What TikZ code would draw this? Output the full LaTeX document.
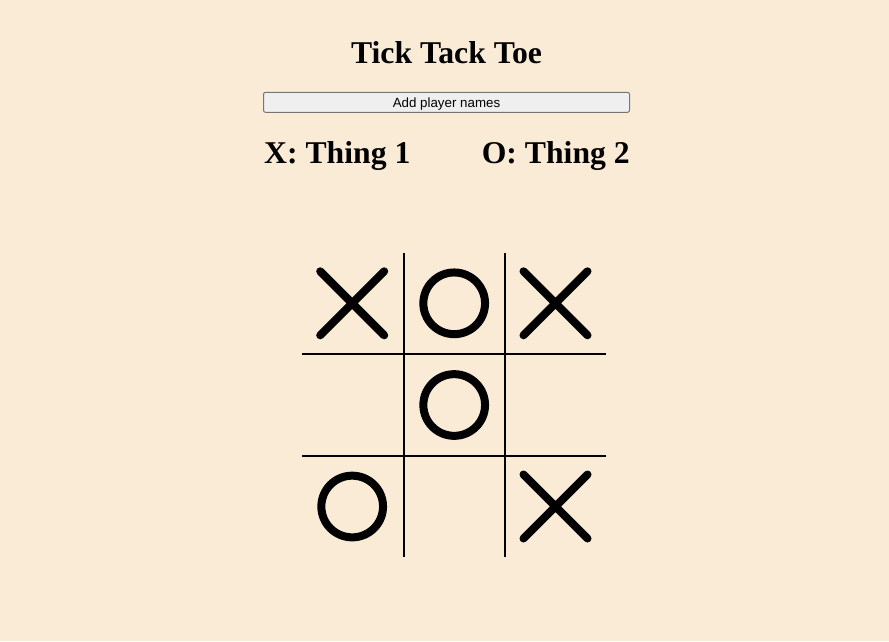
\documentclass[tikz,border=0pt]{standalone}
\usepackage{fontspec}
\setmainfont{Liberation Serif}
\newfontfamily\btnfont{Liberation Sans}
\usetikzlibrary{shapes.misc}
\definecolor{pagebg}{HTML}{FAEBD7}
\definecolor{btnfill}{HTML}{EFEFEF}
\definecolor{btnborder}{HTML}{767676}

\begin{document}
\begin{tikzpicture}
    [
        x=1pt, y=-1pt,
        heading/.style = {inner sep=0pt, font=\bfseries\fontsize{31.7}{38}\selectfont},
        button/.style = {draw=btnborder, fill=btnfill, line width=1pt, rounded corners=2pt, inner sep=0pt, minimum width=366pt, minimum height=20pt, text height=11pt, text depth=1pt, font=\btnfont\fontsize{13.33}{16}\selectfont},
        gridline/.style = {line width=2pt},
        xmark/.style = {draw, cross out, inner sep=0pt, outer sep=0pt, minimum size=64pt, line width=8pt, line cap=round},
        omark/.style = {draw, circle, inner sep=0pt, minimum size=61.7pt, line width=8pt},
    ]

    \fill[pagebg] (0,0) rectangle (889,641);

    \node[heading, anchor=base] (title) at (446.5,63) {Tick Tack Toe};
    \node[button] (addbtn) at (446.5,102.3) {Add player names};
    \node[heading, anchor=base west] (playerx) at (264,163) {X: Thing 1};
    \node[heading, anchor=base east] (playero) at (630,163) {O: Thing 2};

    \draw[gridline] (403.5,253) -- (403.5,557);
    \draw[gridline] (505,253) -- (505,557);
    \draw[gridline] (302,354) -- (606,354);
    \draw[gridline] (302,456) -- (606,456);

    \node[xmark] (c11) at (352.2,303.3) {};
    \node[omark] (c12) at (454.2,303.3) {};
    \node[xmark] (c13) at (555.5,303.3) {};
    \node[omark] (c22) at (454.2,405)   {};
    \node[omark] (c31) at (352.2,506.5) {};
    \node[xmark] (c33) at (555.5,506.5) {};
\end{tikzpicture}
\end{document}
